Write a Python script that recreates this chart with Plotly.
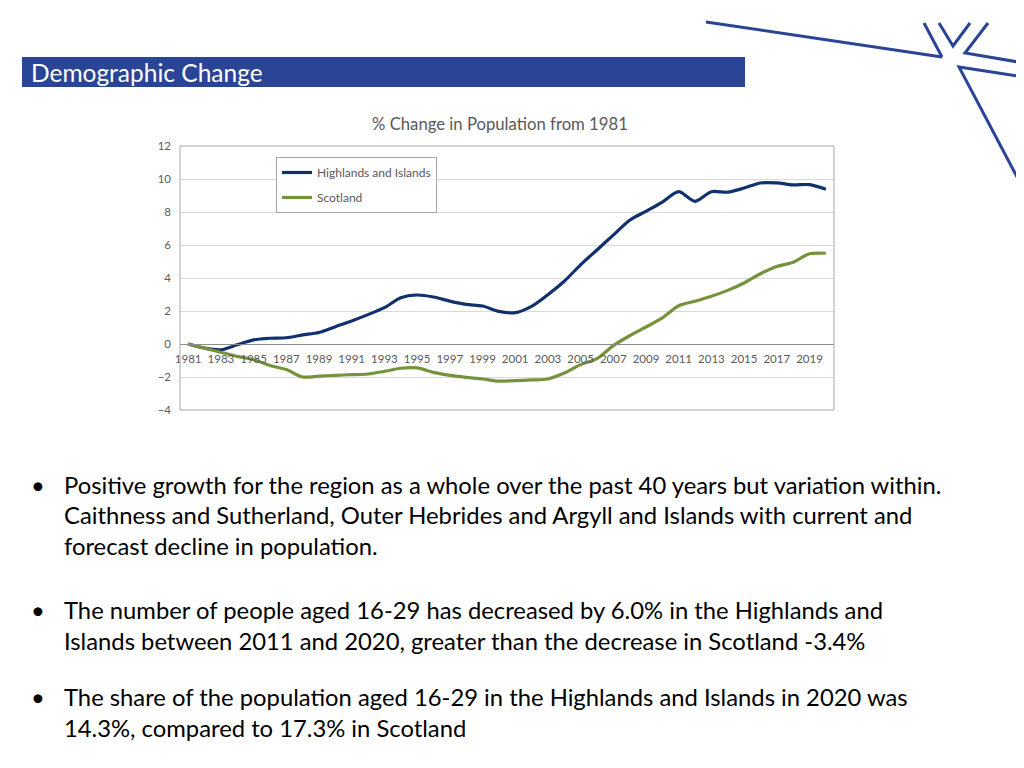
import plotly.graph_objects as go

W, H = 1024, 768
OFF = 8  # page body margin

years = [1981, 1982, 1983, 1984, 1985, 1986, 1987, 1988, 1989, 1990,
         1991, 1992, 1993, 1994, 1995, 1996, 1997, 1998, 1999, 2000,
         2001, 2002, 2003, 2004, 2005, 2006, 2007, 2008, 2009, 2010,
         2011, 2012, 2013, 2014, 2015, 2016, 2017, 2018, 2019, 2020]

highlands = [0.0, -0.25, -0.35, -0.05, 0.25, 0.35, 0.38, 0.55, 0.7, 1.05,
             1.4, 1.78, 2.2, 2.8, 2.97, 2.85, 2.6, 2.4, 2.3, 1.98,
             1.9, 2.28, 2.99, 3.8, 4.8, 5.7, 6.6, 7.5, 8.04, 8.6,
             9.23, 8.65, 9.23, 9.2, 9.45, 9.76, 9.76, 9.64, 9.66, 9.38]

scotland = [0.0, -0.25, -0.5, -0.75, -0.95, -1.3, -1.55, -2.0, -1.95, -1.9,
            -1.86, -1.82, -1.66, -1.47, -1.45, -1.72, -1.9, -2.02, -2.12, -2.25,
            -2.22, -2.18, -2.12, -1.76, -1.25, -0.89, -0.1, 0.5, 1.03, 1.58,
            2.32, 2.59, 2.89, 3.25, 3.7, 4.26, 4.7, 4.95, 5.47, 5.5]

x_tick_years = [1981, 1983, 1985, 1987, 1989, 1991, 1993, 1995, 1997, 1999,
                2001, 2003, 2005, 2007, 2009, 2011, 2013, 2015, 2017, 2019]
x_tick_labels = [str(y) for y in x_tick_years]
y_ticks = [-4, -2, 0, 2, 4, 6, 8, 10, 12]

title_text = "% Change in Population from 1981"
header_text = "Demographic Change"
bullets = [
    ["Positive growth for the region as a whole over the past 40 years but variation within.",
     "Caithness and Sutherland, Outer Hebrides and Argyll and Islands with current and",
     "forecast decline in population."],
    ["The number of people aged 16-29 has decreased by 6.0% in the Highlands and",
     "Islands between 2011 and 2020, greater than the decrease in Scotland -3.4%"],
    ["The share of the population aged 16-29 in the Highlands and Islands in 2020 was",
     "14.3%, compared to 17.3% in Scotland"],
]
bullet_line_y = [[485, 515, 546], [610, 641], [697, 728]]

FONT = "Lato"
BLUE = "#2B4596"


def px(x):
    return (x - OFF) / W


def py(y):
    return 1 - (y - OFF) / H


fig = go.Figure()
fig.add_trace(go.Scatter(x=years, y=highlands, name="Highlands and Islands",
                         mode="lines", legendgroup="a",
                         line=dict(color="#10306E", width=3.2, shape="spline", smoothing=0.8)))
fig.add_trace(go.Scatter(x=years, y=scotland, name="Scotland",
                         mode="lines", legendgroup="b",
                         line=dict(color="#76923C", width=3.2, shape="spline", smoothing=0.8)))

dom_x = [px(180), px(834)]
dom_y = [py(410), py(146)]

shapes = []
# header bar
shapes.append(dict(type="rect", xref="paper", yref="paper", x0=px(22), x1=px(745),
                   y0=py(87), y1=py(57), fillcolor=BLUE, line=dict(width=0), layer="below"))
# plot frame
shapes.append(dict(type="rect", xref="x domain", yref="y domain", x0=0, x1=1, y0=0, y1=1,
                   line=dict(color="#A6A6A6", width=1)))
# decorative lines
deco = [
    [(706, 22), (942, 57)],
    [(924, 23), (942, 57)],
    [(939, 23), (953, 46), (970, 23)],
    [(988, 23), (965, 53), (1030, 64)],
    [(1030, 78), (959, 67), (1026, 194)],
]
for seg in deco:
    path = "M " + " L ".join(f"{px(a)},{py(b)}" for a, b in seg)
    shapes.append(dict(type="path", xref="paper", yref="paper", path=path,
                       line=dict(color=BLUE, width=3)))

annotations = []
annotations.append(dict(text=header_text, xref="paper", yref="paper", x=px(29), y=py(72),
                        xanchor="left", yanchor="middle", showarrow=False,
                        font=dict(family=FONT, size=24.5, color="white")))
annotations.append(dict(text=title_text, xref="paper", yref="paper", x=px(500), y=py(124),
                        xanchor="center", yanchor="middle", showarrow=False,
                        font=dict(family=FONT, size=16.7, color="#595959")))
for lines, ys in zip(bullets, bullet_line_y):
    annotations.append(dict(text="•", xref="paper", yref="paper", x=px(29), y=py(ys[0]),
                            xanchor="left", yanchor="middle", showarrow=False,
                            font=dict(family=FONT, size=23.8, color="black")))
    for t, yy in zip(lines, ys):
        annotations.append(dict(text=t, xref="paper", yref="paper", x=px(62), y=py(yy),
                                xanchor="left", yanchor="middle", showarrow=False,
                                font=dict(family=FONT, size=23.8, color="black")))

fig.update_layout(
    width=W, height=H,
    margin=dict(l=0, r=0, t=0, b=0, autoexpand=False),
    paper_bgcolor="white", plot_bgcolor="white",
    font=dict(family=FONT, color="#595959"),
    xaxis=dict(domain=dom_x, range=[1980.5, 2020.5], anchor="free", position=py(344),
               showline=True, linecolor="#8C8C8C", linewidth=1, tickmode="array",
               tickvals=x_tick_years, ticktext=x_tick_labels, ticks="", showgrid=False,
               zeroline=False, tickfont=dict(family=FONT, size=11.5, color="#595959"),
               ticklabelstandoff=4, automargin=False),
    yaxis=dict(domain=dom_y, range=[-4, 12], tickmode="array", tickvals=y_ticks,
               showline=False, gridcolor="#D9D9D9", zeroline=False, ticks="",
               tickfont=dict(family=FONT, size=11.5, color="#595959"), ticklabelstandoff=8,
               automargin=False),
    legend=dict(x=px(276), y=py(157), xanchor="left", yanchor="top",
                bordercolor="#A6A6A6", borderwidth=1, bgcolor="white",
                font=dict(family=FONT, size=12, color="#595959"), tracegroupgap=6,
                itemwidth=30),
    showlegend=True,
    shapes=shapes,
    annotations=annotations,
)

fig.write_html("out.html")
